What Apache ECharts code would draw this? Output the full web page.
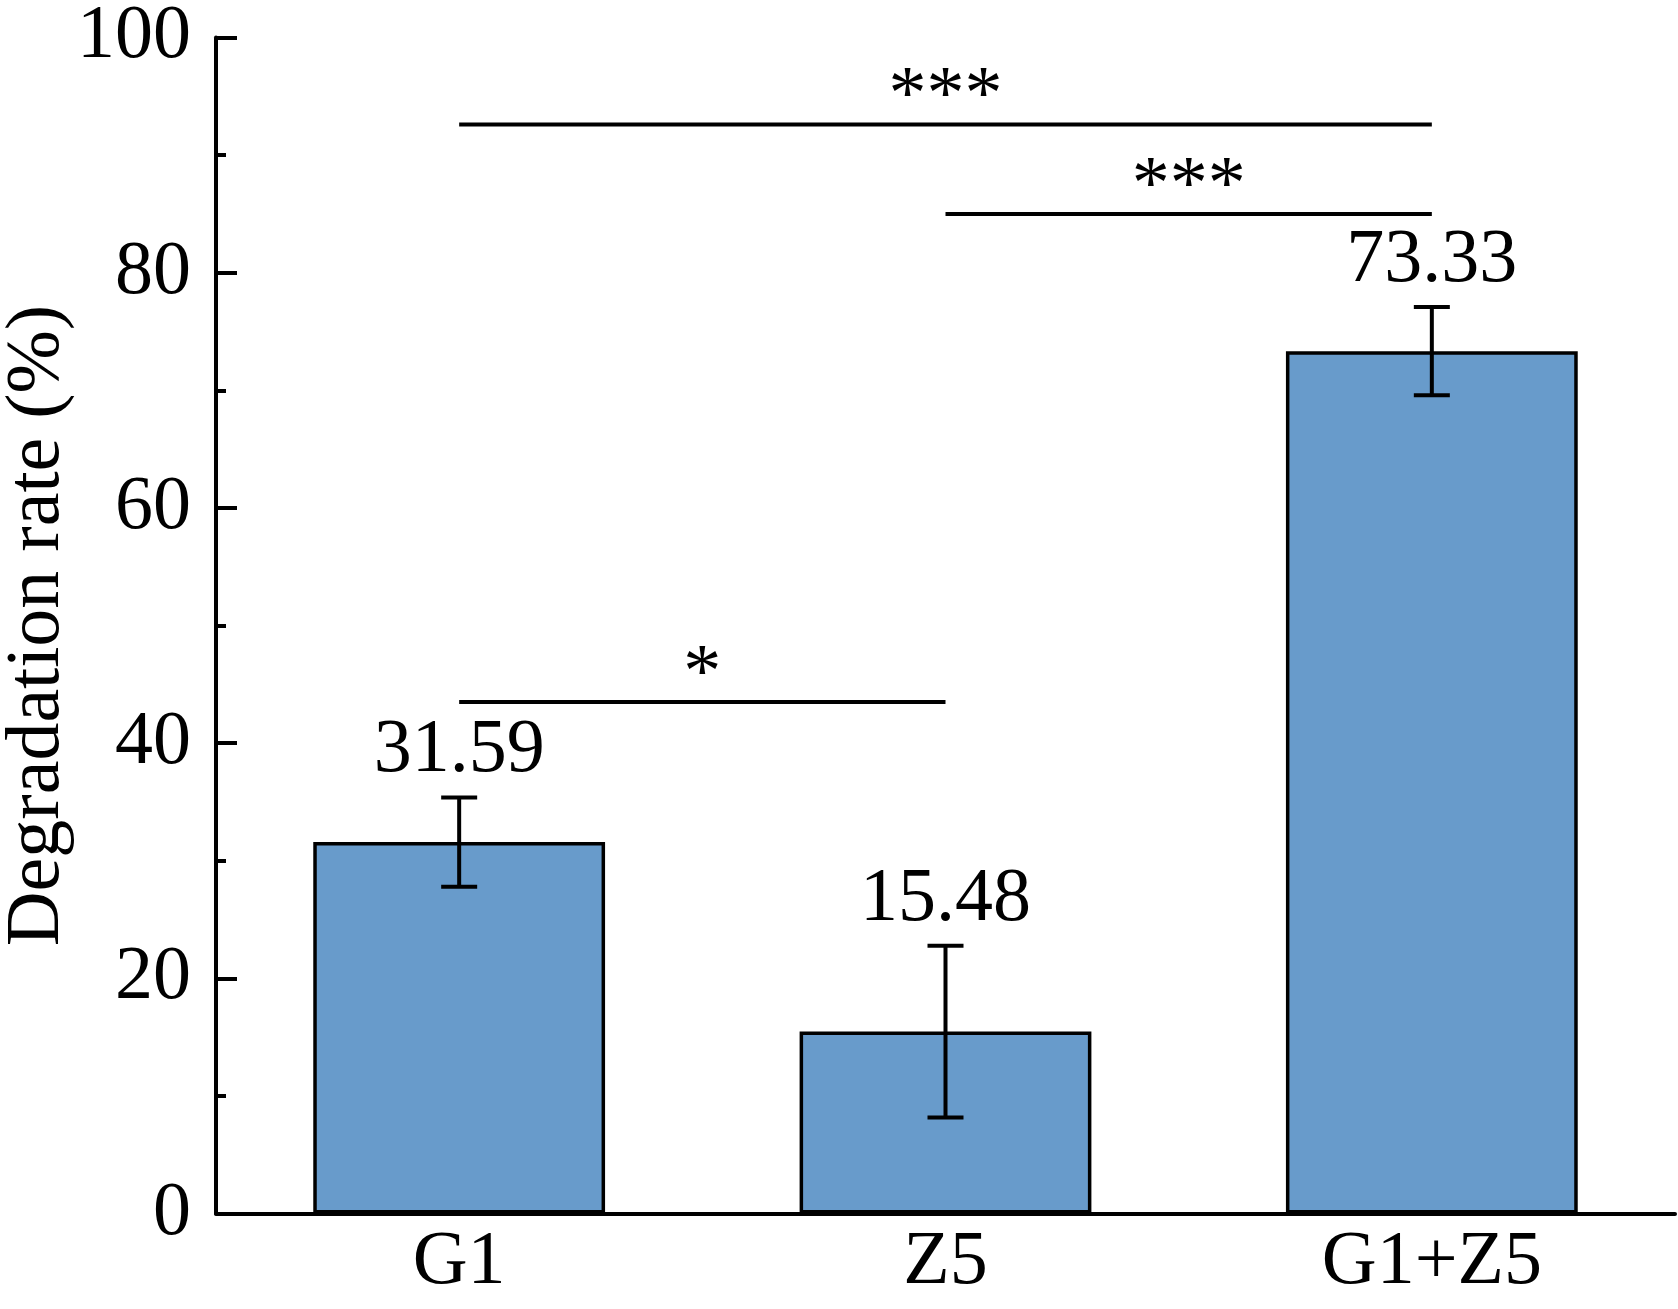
<!DOCTYPE html>
<html>
<head>
<meta charset="utf-8">
<script src="https://cdn.jsdelivr.net/npm/echarts@6/dist/echarts.min.js"></script>
<style>
  html, body { margin: 0; padding: 0; background: #fff; }
  #chart-container { width: 1678px; height: 1309px; }
</style>
</head>
<body>
<div id="chart-container"></div>
<script>
var categories = ['G1', 'Z5', 'G1+Z5'];
var means = [31.59, 15.48, 73.33];
var errors = [3.8, 7.3, 3.75];
var valueLabels = ['31.59', '15.48', '73.33'];
// significance brackets: from, to, height, mark
var sigFrom = [0, 1, 0];
var sigTo = [2, 2, 1];
var sigHeight = [92.6, 85.0, 43.5];
var sigMark = ['***', '***', '*'];
var yTicks = [0, 20, 40, 60, 80, 100];

var font = '"Liberation Serif", "Times New Roman", serif';
var fs = 76;
var lw = 4;
var dom = document.getElementById('chart-container');
var myChart = echarts.init(dom, null, { renderer: 'canvas' });

var errData = means.map(function (m, i) { return [i, m, errors[i], valueLabels[i]]; });
var sigData = sigFrom.map(function (f, i) { return [f, sigTo[i], sigHeight[i], sigMark[i]]; });

var option = {
  animation: false,
  backgroundColor: '#fff',
  grid: { left: 216, right: 3, top: 37.5, bottom: 95.4, containLabel: false, outerBoundsMode: 'none' },
  xAxis: [
    {
      type: 'category',
      data: categories,
      axisLine: { lineStyle: { color: '#000', width: lw } },
      axisTick: { inside: true, alignWithLabel: true, length: 22, lineStyle: { color: '#000', width: 3 } },
      axisLabel: { color: '#000', fontFamily: font, fontSize: fs, margin: 11 }
    },
    {
      type: 'category',
      data: categories,
      position: 'bottom',
      axisLine: { show: false },
      axisTick: { inside: true, length: 11, lineStyle: { color: '#000', width: 3 } },
      axisLabel: { show: false }
    }
  ],
  yAxis: {
    type: 'value',
    min: yTicks[0],
    max: yTicks[yTicks.length - 1],
    interval: 20,
    name: 'Degradation rate (%)',
    nameLocation: 'middle',
    nameGap: 140,
    nameMoveOverlap: false,
    nameTextStyle: { color: '#000', fontFamily: font, fontSize: fs },
    axisLine: { show: true, lineStyle: { color: '#000', width: lw } },
    axisTick: { show: true, inside: true, length: 21, lineStyle: { color: '#000', width: lw } },
    minorTick: { show: true, splitNumber: 2, length: 10, lineStyle: { color: '#000', width: lw } },
    splitLine: { show: false },
    axisLabel: { color: '#000', fontFamily: font, fontSize: fs, margin: 25 }
  },
  series: [
    {
      type: 'bar',
      data: means,
      barWidth: '60%',
      itemStyle: { color: '#689BCB', borderColor: '#000', borderWidth: 3.5 }
    },
    {
      type: 'custom',
      data: errData,
      z: 5,
      renderItem: function (params, api) {
        var x = api.value(0), m = api.value(1), e = api.value(2);
        var top = api.coord([x, m + e]);
        var bot = api.coord([x, m - e]);
        var cap = 18;
        var ls = { stroke: '#000', lineWidth: lw };
        return {
          type: 'group',
          children: [
            { type: 'line', shape: { x1: top[0], y1: top[1], x2: bot[0], y2: bot[1] }, style: ls },
            { type: 'line', shape: { x1: top[0] - cap, y1: top[1], x2: top[0] + cap, y2: top[1] }, style: ls },
            { type: 'line', shape: { x1: bot[0] - cap, y1: bot[1], x2: bot[0] + cap, y2: bot[1] }, style: ls },
            { type: 'text', x: top[0], y: top[1] - 46,
              style: { text: errData[params.dataIndex][3], fill: '#000', font: fs + 'px ' + font, align: 'center', verticalAlign: 'middle' } }
          ]
        };
      }
    },
    {
      type: 'custom',
      data: sigData,
      z: 5,
      renderItem: function (params, api) {
        var a = api.coord([api.value(0), api.value(2)]);
        var b = api.coord([api.value(1), api.value(2)]);
        return {
          type: 'group',
          children: [
            { type: 'line', shape: { x1: a[0], y1: a[1], x2: b[0], y2: b[1] }, style: { stroke: '#000', lineWidth: lw } },
            { type: 'text', x: (a[0] + b[0]) / 2, y: a[1] - 26,
              style: { text: sigData[params.dataIndex][3], fill: '#000', font: fs + 'px ' + font, align: 'center', verticalAlign: 'middle' } }
          ]
        };
      }
    }
  ]
};

myChart.setOption(option);
window.addEventListener('resize', myChart.resize);
</script>
</body>
</html>
